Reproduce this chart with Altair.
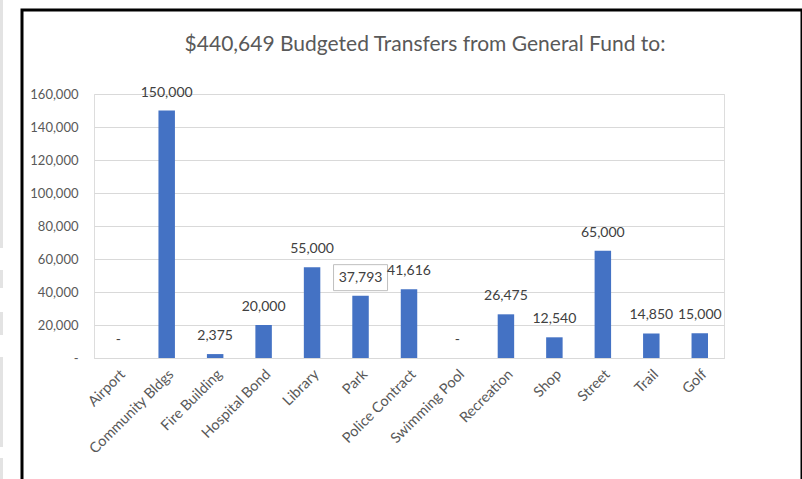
import altair as alt
import pandas as pd

categories = ["Airport", "Community Bldgs", "Fire Building", "Hospital Bond", "Library",
              "Park", "Police Contract", "Swimming Pool", "Recreation", "Shop",
              "Street", "Trail", "Golf"]
values = [0, 150000, 2375, 20000, 55000, 37793, 41616, 0, 26475, 12540, 65000, 14850, 15000]
title_text = "$440,649 Budgeted Transfers from General Fund to:"
y_ticks = [0, 20000, 40000, 60000, 80000, 100000, 120000, 140000, 160000]

df = pd.DataFrame({"category": categories, "value": values})
df["label"] = ["-" if v == 0 else f"{v:,}" for v in values]

FONT = "Lato"
GRAY = "#595959"

x_enc = alt.X("category:N", sort=categories, title=None,
              scale=alt.Scale(paddingInner=0.66, paddingOuter=0.33),
              axis=alt.Axis(labelAngle=-45, labelAlign="right", labelBaseline="top",
                            labelFontSize=14.5, labelColor=GRAY, labelFont=FONT,
                            ticks=False, domainColor="#d9d9d9", labelPadding=9))
y_enc = alt.Y("value:Q", title=None,
              scale=alt.Scale(domain=[0, 160000], nice=False),
              axis=alt.Axis(values=y_ticks, labelFontSize=13, labelColor=GRAY, labelFont=FONT,
                            labelOverlap=False, tickCount=9,
                            ticks=False, domain=False, gridColor="#d9d9d9", labelPadding=16,
                            labelExpr="datum.value == 0 ? '-\u00a0\u00a0\u00a0' : format(datum.value, ',')"))

base = alt.Chart(df)
bars = base.mark_bar(color="#4472C4").encode(x=x_enc, y=y_enc)
box = base.transform_filter(alt.datum.category == "Park").mark_rect(
    width=54, height=26, yOffset=-18, fill="white", stroke="#bfbfbf", strokeWidth=1
).encode(x=x_enc, y=y_enc)
labels = base.mark_text(baseline="middle", dy=-18, fontSize=14, color="#404040", font=FONT).encode(
    x=x_enc, y=y_enc, text="label:N")

one = alt.Data(values=[{"t": title_text}])
title = alt.Chart(one).mark_text(fontSize=21, font=FONT, color=GRAY, align="center",
                                 baseline="middle").encode(
    text="t:N", x=alt.value(331), y=alt.value(-49))

frame = alt.Chart(alt.Data(values=[{"a": 1}])).mark_rect(
    fill=None, stroke="black", strokeWidth=3
).encode(x=alt.value(-72), x2=alt.value(708), y=alt.value(-84), y2=alt.value(400))

# light gray strips at the far left edge of the screenshot
strip_layers = []
for (a, b) in [(0, 248), (270, 288), (312, 335), (357, 447), (458, 479)]:
    strip_layers.append(
        alt.Chart(alt.Data(values=[{"a": 1}])).mark_rect(fill="#e3e3e3").encode(
            x=alt.value(-94), x2=alt.value(-91), y=alt.value(a - 94), y2=alt.value(b - 94)))

chart = alt.layer(bars, box, labels, title, frame, *strip_layers).properties(
    width=630, height=264,
    autosize=alt.AutoSizeParams(type="none"),
    padding={"left": 94, "top": 94, "right": 78, "bottom": 121},
).configure_view(strokeWidth=0).configure(background="white")

chart.save("out.html", embed_options={"renderer": "svg", "actions": False})
